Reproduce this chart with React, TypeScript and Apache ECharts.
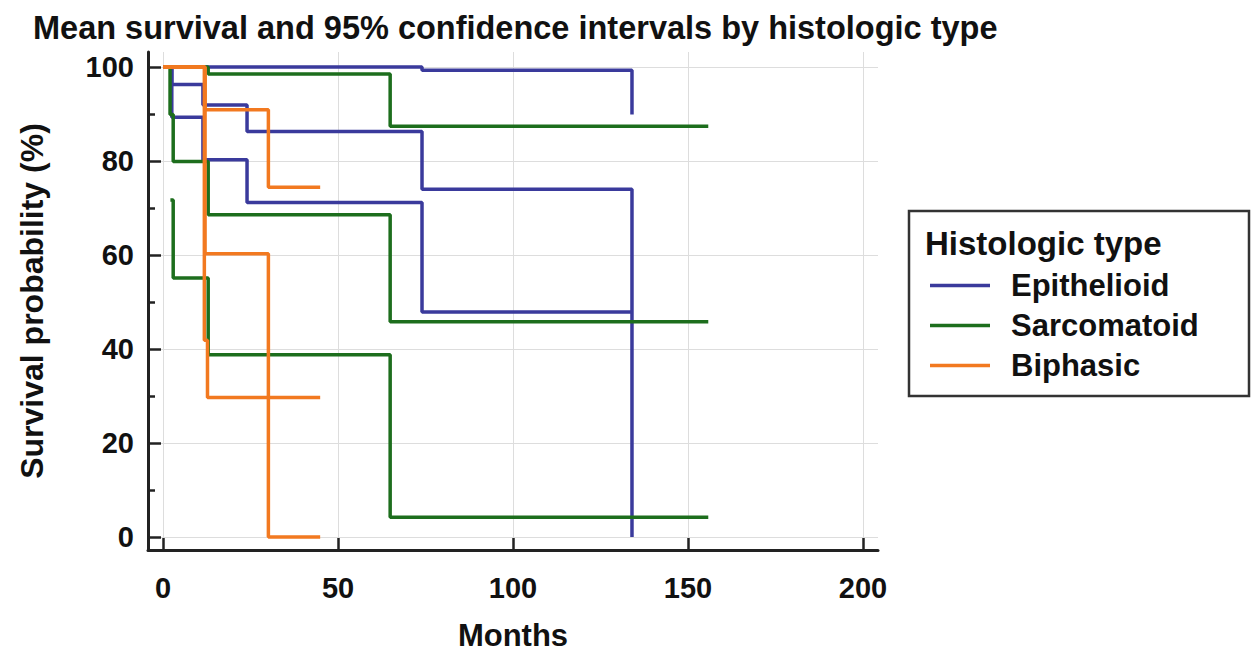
import React, { useEffect, useRef } from "react";
import * as echarts from "echarts";

// ---- data (months, survival %) ----
const xTicks = [0, 50, 100, 150, 200];
const yTicks = [0, 20, 40, 60, 80, 100];
const yMinorTicks = [10, 30, 50, 70, 90];
const groups = ["Epithelioid", "Sarcomatoid", "Biphasic"];

const epiUpper = [[0, 100], [74, 99.3], [134, 89.9]];
const epiSurv = [[0, 100], [2.5, 96.3], [11.4, 91.9], [24, 86.3], [74, 74], [134, 0]];
const epiLower = [[0, 100], [2.5, 89.3], [11.4, 80.3], [24, 71.2], [74, 47.9], [134, 47.9]];

const sarUpper = [[0, 100], [12.9, 98.5], [64.9, 87.4], [155.8, 87.4]];
const sarSurv = [[0, 100], [2, 89.9], [2.9, 79.9], [12.9, 68.6], [64.9, 45.8], [155.8, 45.8]];
const sarLower = [[2.1, 71.7], [2.9, 55.1], [12.9, 38.8], [64.9, 4.2], [155.8, 4.2]];

const biUpper = [[0, 100], [12, 90.9], [30.1, 74.4], [44.9, 74.4]];
const biSurv = [[0, 100], [12, 60.3], [30.1, 0], [44.9, 0]];
const biLower = [[0, 100], [11.8, 41.9], [12.7, 29.7], [44.9, 29.7]];

const colors = { Epithelioid: "#3a3a9c", Sarcomatoid: "#1d6e1d", Biphasic: "#f27920" };

const FONT = "'Liberation Sans', Arial, sans-serif";

function curve(name: string, data: number[][]) {
  return {
    type: "line",
    name,
    step: "end",
    showSymbol: false,
    symbol: "none",
    data,
    lineStyle: { width: 3.5, color: (colors as any)[name] },
    itemStyle: { color: (colors as any)[name] },
    xAxisIndex: 0,
    yAxisIndex: 0,
  };
}

export default function App() {
  const ref = useRef<HTMLDivElement>(null);
  useEffect(() => {
    if (!ref.current) return;
    const chart = echarts.init(ref.current, undefined, { renderer: "svg" });
    chart.setOption({
      animation: false,
      backgroundColor: "#ffffff",
      title: {
        text: "Mean survival and 95% confidence intervals by histologic type",
        left: 28,
        top: 6,
        textStyle: { fontFamily: FONT, fontWeight: "bold", fontSize: 32.5, color: "#111" },
      },
      grid: { left: 148, right: 377, top: 52, bottom: 103 },
      legend: {
        data: groups,
        orient: "vertical",
        left: 925,
        top: 265,
        itemGap: 9,
        itemWidth: 60,
        itemHeight: 3.5,
        icon: "rect",
        textStyle: {
          fontFamily: FONT,
          fontWeight: "bold",
          fontSize: 31,
          color: "#111",
          padding: [0, 0, 0, 16],
        },
      },
      graphic: [
        {
          type: "rect",
          shape: { x: 909, y: 211, width: 340, height: 185 },
          style: { fill: "none", stroke: "#333", lineWidth: 2.5 },
          silent: true,
        },
        {
          type: "text",
          x: 925,
          y: 243,
          style: {
            text: "Histologic type",
            fontFamily: FONT,
            fontWeight: "bold",
            fontSize: 33,
            fill: "#111",
            textVerticalAlign: "middle",
          },
        },
      ],
      xAxis: [
        {
          type: "value",
          min: -4.3,
          max: 204.3,
          name: "Months",
          nameLocation: "middle",
          nameGap: 70,
          nameTextStyle: { fontFamily: FONT, fontWeight: "bold", fontSize: 31, color: "#111" },
          axisLine: { onZero: false, lineStyle: { color: "#222", width: 3 } },
          axisTick: { inside: true, length: 12, customValues: xTicks, lineStyle: { color: "#222", width: 2.5 } },
          axisLabel: { customValues: xTicks, fontFamily: FONT, fontWeight: "bold", fontSize: 29, color: "#111", margin: 23 },
          splitLine: { show: true, lineStyle: { color: "#dddddd", width: 1 } },
        },
      ],
      yAxis: [
        {
          type: "value",
          min: -2.75,
          max: 103.2,
          name: "Survival probability (%)",
          nameLocation: "middle",
          nameGap: 100,
          nameTextStyle: { fontFamily: FONT, fontWeight: "bold", fontSize: 32, color: "#111" },
          axisLine: { onZero: false, lineStyle: { color: "#222", width: 3 } },
          axisTick: { inside: true, length: 13, customValues: yTicks, lineStyle: { color: "#222", width: 2.5 } },
          axisLabel: { customValues: yTicks, fontFamily: FONT, fontWeight: "bold", fontSize: 29, color: "#111", margin: 14 },
          splitLine: { show: true, lineStyle: { color: "#dddddd", width: 1 } },
        },
        {
          type: "value",
          min: -2.75,
          max: 103.2,
          position: "left",
          axisLine: { show: false, onZero: false },
          axisTick: { inside: true, length: 7, customValues: yMinorTicks, lineStyle: { color: "#222", width: 2.5 } },
          axisLabel: { show: false },
          splitLine: { show: false },
        },
      ],
      series: [
        curve("Epithelioid", epiUpper),
        curve("Epithelioid", epiSurv),
        curve("Epithelioid", epiLower),
        curve("Sarcomatoid", sarUpper),
        curve("Sarcomatoid", sarSurv),
        curve("Sarcomatoid", sarLower),
        curve("Biphasic", biUpper),
        curve("Biphasic", biSurv),
        curve("Biphasic", biLower),
      ],
    });
    return () => chart.dispose();
  }, []);
  return <div ref={ref} style={{ position: "fixed", left: 0, top: 0, width: 1255, height: 656 }} />;
}
